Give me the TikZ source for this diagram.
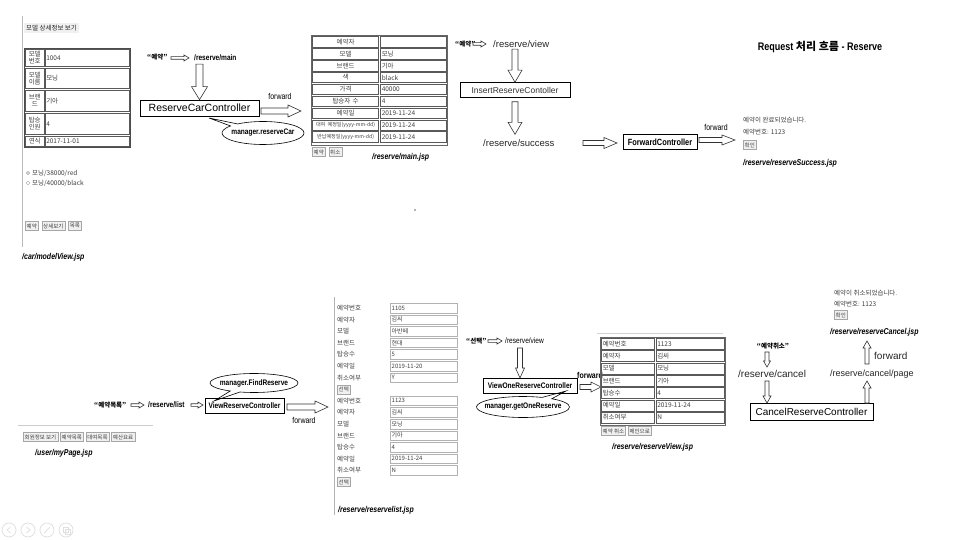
\documentclass[tikz,border=0pt]{standalone}
\usepackage{fontspec}
\setmainfont{Liberation Sans}
\newfontfamily\kr{Noto Sans CJK KR}
\newfontfamily\nar[FakeStretch=0.82]{Liberation Sans}
\usetikzlibrary{shapes.geometric,shapes.callouts,calc}

\newcommand\blockR[5]{\draw[blk] let \p1=#1, \p2=#2 in (\x1,{\y1+#3pt}) -- ({\x2-#5pt},{\y1+#3pt}) -- ({\x2-#5pt},{\y1+#4pt}) -- (\x2,\y1) -- ({\x2-#5pt},{\y1-#4pt}) -- ({\x2-#5pt},{\y1-#3pt}) -- (\x1,{\y1-#3pt}) -- cycle;}
\newcommand\blockD[5]{\draw[blk] let \p1=#1, \p2=#2 in ({\x1-#3pt},\y1) -- ({\x1-#3pt},{\y2+#5pt}) -- ({\x1-#4pt},{\y2+#5pt}) -- (\x1,\y2) -- ({\x1+#4pt},{\y2+#5pt}) -- ({\x1+#3pt},{\y2+#5pt}) -- ({\x1+#3pt},\y1) -- cycle;}
\newcommand\blockU[5]{\draw[blk] let \p1=#1, \p2=#2 in ({\x1-#3pt},\y1) -- ({\x1-#3pt},{\y2-#5pt}) -- ({\x1-#4pt},{\y2-#5pt}) -- (\x1,\y2) -- ({\x1+#4pt},{\y2-#5pt}) -- ({\x1+#3pt},{\y2-#5pt}) -- ({\x1+#3pt},\y1) -- cycle;}

\tikzset{
 every node/.style={inner sep=0pt},
 kt/.style={font=\kr\fontsize{6.5}{7}\selectfont, text=black!75},
 qt/.style={font=\kr\bfseries\fontsize{6.5}{7}\selectfont},
 jsp/.style={font=\nar\bfseries\itshape\fontsize{8.5}{9}\selectfont, anchor=west},
 url/.style={font=\fontsize{9.5}{10}\selectfont, anchor=west, text=black!85},
 urlb/.style={font=\nar\bfseries\fontsize{8}{9}\selectfont, anchor=west},
 fwd/.style={font=\nar\fontsize{8.5}{9}\selectfont},
 ctrl/.style={draw, line width=.7pt, fill=white, font=\fontsize{10.5}{11}\selectfont},
 ctrlb/.style={draw, line width=.7pt, fill=white, font=\nar\bfseries\fontsize{8}{9}\selectfont},
 blk/.style={draw=black!80, line width=.6pt, fill=white, line join=miter},
 btn/.style={draw=gray!70, fill=gray!12, font=\kr\fontsize{5.5}{6}\selectfont, inner xsep=1.5pt, minimum height=9, text=black!75},
 cellbox/.style={draw=black!65, line width=.5pt, font=\kr\fontsize{6.5}{7}\selectfont, text=black!75, inner xsep=1.5pt},
 field/.style={draw=gray!60, line width=.4pt, font=\kr\fontsize{6}{7}\selectfont, text=black!75, minimum height=9.5, text width=64, inner xsep=1.5pt, align=left, anchor=west},
 callout/.style={ellipse callout, draw, line width=.6pt, font=\nar\bfseries\fontsize{8}{9}\selectfont, callout pointer arc=14},
}

\begin{document}
\begin{tikzpicture}[x=1pt,y=-1pt]
\useasboundingbox (0,0) rectangle (960,540);
\fill[white] (0,0) rectangle (960,540);

% ---------------- top-left: model view ----------------
\draw[gray!55, line width=.8pt] (22,16) -- (22,247);
\node[kt, fill=gray!12, anchor=west, inner xsep=2pt, inner ysep=2pt, text=black!85] (ttl) at (24,28) {모델 상세정보 보기};
\draw[black!70, line width=.8pt] (24,48) rectangle (130,147);
\foreach \t/\b/\lab/\val [count=\i] in {48/67/{모델\\번호}/1004, 67/89/{모델\\이름}/모닝, 89/112/{브랜\\드}/기아, 112/135/{탑승\\인원}/4, 135/147/연식/2017-11-01} {
  \node[cellbox, anchor=north west, text width=16, align=center, minimum height={\b-\t-1.6}] (tl\i) at (25,{\t+0.8}) {\lab};
  \node[cellbox, anchor=north west, text width=81, align=left, minimum height={\b-\t-1.6}] (tv\i) at (44.5,{\t+0.8}) {\val};
}
\draw[gray!70] (28,173) circle (1.8); \fill[gray!70] (28,173) circle (0.8);
\node[kt, anchor=west] (r1) at (32,173) {모닝/38000/red};
\draw[gray!70] (28,183) circle (1.8);
\node[kt, anchor=west] (r2) at (32,183) {모닝/40000/black};
\node[btn, anchor=west] (b1) at (25,226) {예약};
\node[btn, anchor=west] (b2) at ([xshift=3pt]b1.east) {상세보기};
\node[btn, anchor=west] (b3) at ([xshift=3pt]b2.east) {목록};
\node[jsp] (j1) at (22,257) {/car/modelView.jsp};

% ---------------- top: reserve main ----------------
\node[qt, anchor=west] (q1) at (147,57) {“예약”};
\blockR{(171,58)}{(189,58)}{1.3}{3}{5}
\node[urlb] (rm) at (194,58) {/reserve/main};
\node[ctrl, minimum width=119, minimum height=16] (rcc) at (199.5,108) {ReserveCarController};
\blockD{([yshift=-3pt]rcc.north |- rm.south)}{(rcc.north)}{3.5}{8}{13}
\node[fwd] (fw1) at (280,96) {forward};
\blockR{(261,111)}{(301,111)}{3}{6}{13}
\node[callout, minimum width=82, minimum height=23, callout absolute pointer={(209,118)}] (mrc) at (263,133) {\makebox[0pt]{manager.reserveCar}};

% ---------------- reserve/main.jsp form ----------------
\draw[black!60, line width=.7pt] (311,35) rectangle (447,145);
\foreach \lab/\val [count=\i from 0] in {예약자/{}, 모델/모닝, 브랜드/기아, 색/black, 가격/40000, 탑승자 수/4, 예약일/2019-11-24, {\fontsize{5.1}{6}\selectfont 대여 예정일(yyyy-mm-dd)}/2019-11-24, {\fontsize{5.1}{6}\selectfont 반납예정일(yyyy-mm-dd)}/2019-11-24} {
  \pgfmathsetmacro\yt{36.3+11.9*\i}
  \node[cellbox, anchor=north west, text width=63, align=center, minimum height=10.5] (fl\i) at (312.3,\yt) {\lab};
  \node[cellbox, anchor=north west, text width=63, align=left, minimum height=10.5] (fv\i) at (380,\yt) {\val};
}
\node[btn, anchor=west] (fb1) at (312,152) {예약};
\node[btn, anchor=west] (fb2) at ([xshift=3pt]fb1.east) {취소};
\node[jsp] (j2) at (372,157) {/reserve/main.jsp};

% ---------------- top right: insert / forward ----------------
\node[qt, anchor=west] (q2) at (455,44) {“예약”};
\blockR{(473,44)}{(486,44)}{1.3}{3}{5}
\node[url] (rv) at (493,44) {/reserve/view};
\node[ctrl, font=\fontsize{8.5}{9}\selectfont, text=black!80, minimum width=110, minimum height=15, line width=.6pt] (irc) at (515,90) {InsertReserveContoller};
\blockD{([yshift=-1.5pt]irc.north |- rv.south)}{(irc.north)}{3}{7}{12}
\node[url] (rs) at (483,143) {/reserve/success};
\blockD{([yshift=-4pt]irc.south)}{([yshift=5pt]rs.north -| irc.south)}{3}{7}{12}
\blockR{(583,143)}{(617,143)}{2.5}{5.5}{13}
\node[ctrlb, minimum width=74, minimum height=15, font=\nar\bfseries\fontsize{9}{10}\selectfont] (fc) at (660,142) {ForwardController};
\node[fwd] (fw2) at (716,127) {forward};
\blockR{(699,140)}{(735,140)}{2.5}{5}{13}
\node[kt, anchor=west] (s1) at (743,120) {예약이 완료되었습니다.};
\node[kt, anchor=west] (s2) at (743,132) {예약번호: 1123};
\node[btn, anchor=west] (s3) at (743,145) {확인};
\node[jsp] (s4) at (743,163) {/reserve/reserveSuccess.jsp};
\node[font=\nar\bfseries\fontsize{11}{12}\selectfont] (title) at (820,47) {Request {\kr\bfseries 처리 흐름} - Reserve};
\fill[black!60] (415,210) circle (0.8);

% ---------------- bottom left: myPage ----------------
\draw[gray!40, line width=.6pt] (18,425) -- (153,425);
\node[btn, anchor=west] (m1) at (23,437) {회원정보 보기};
\node[btn, anchor=west] (m2) at ([xshift=2pt]m1.east) {예약목록};
\node[btn, anchor=west] (m3) at ([xshift=2pt]m2.east) {대여목록};
\node[btn, anchor=west] (m4) at ([xshift=2pt]m3.east) {예산요료};
\node[jsp] (j4) at (35,453) {/user/myPage.jsp};

\node[qt, anchor=west] (q3) at (94,405) {“예약목록”};
\blockR{(131,405)}{(144,405)}{1.3}{3}{5}
\node[urlb] (rl) at (148,405) {/reserve/list};
\blockR{(191,405)}{(203,405)}{1.3}{3}{5}
\node[ctrlb, minimum width=79, minimum height=15] (vrc) at (244.5,405.5) {ViewReserveController};
\node[callout, minimum width=88, minimum height=19, callout absolute pointer={(214,401)}] (mfr) at (254,383) {\makebox[0pt]{manager.FindReserve}};
\blockR{(287,407)}{(328,407)}{3}{6}{13}
\node[fwd] (fw3) at (304,420) {forward};

% ---------------- reservelist.jsp ----------------
\draw[gray!60, line width=.7pt] (334,297) -- (334,515);
\foreach \lab/\val/\yy [count=\i] in {예약번호/1105/308, 예약자/김씨/319.6, 모델/아반떼/331.2, 브랜드/현대/342.8, 탑승수/5/354.4, 예약일/2019-11-20/366, 취소여부/Y/377.6, 예약번호/1123/400.8, 예약자/김씨/412.4, 모델/모닝/424, 브랜드/기아/435.6, 탑승수/4/447.2, 예약일/2019-11-24/458.8, 취소여부/N/470.4} {
  \node[kt, anchor=west] (ll\i) at (337,\yy) {\lab};
  \node[field] (lv\i) at (390,\yy) {\val};
}
\node[btn, anchor=west] (lb1) at (337,389.2) {선택};
\node[btn, anchor=west] (lb2) at (337,482) {선택};
\node[jsp] (j5) at (338,510) {/reserve/reservelist.jsp};

% ---------------- view one ----------------
\node[qt, anchor=west] (q4) at (466,341) {“선택”};
\blockR{(488,341)}{(502,341)}{1.3}{3}{5}
\node[urlb, font=\nar\fontsize{8}{9}\selectfont] (rv2) at (505,341) {/reserve/view};
\node[ctrlb, minimum width=94, minimum height=15] (vorc) at (530,385.5) {ViewOneReserveController};
\blockD{(520,348)}{(520,378)}{2.5}{4.5}{10}
\node[fwd, font=\nar\bfseries\fontsize{8.5}{9}\selectfont] (fw4) at (590,375) {forward};
\blockR{(580,387)}{(601,387)}{2.5}{5}{10}
\node[callout, minimum width=93, minimum height=21, callout absolute pointer={(566,391)}] (mgo) at (523,407) {\makebox[0pt]{manager.getOneReserve}};

% ---------------- reserveView.jsp ----------------
\draw[gray!35] (597,333) -- (723,333);
\draw[black!60, line width=.7pt] (600,337) rectangle (725,425);
\foreach \lab/\val [count=\i from 0] in {예약번호/1123, 예약자/김씨, 모델/모닝, 브랜드/기아, 탑승수/4, 예약일/2019-11-24, 취소여부/N} {
  \pgfmathsetmacro\yt{338+12.3*\i}
  \node[cellbox, anchor=north west, minimum height=11, text width=50, align=left] (vl\i) at (601,\yt) {\lab};
  \node[cellbox, anchor=north west, minimum height=11, text width=65, align=left] (vv\i) at (655.5,\yt) {\val};
}
\node[btn, anchor=west] (vb1) at (601,431) {예약 취소};
\node[btn, anchor=west] (vb2) at ([xshift=2pt]vb1.east) {메인으로};
\node[jsp] (j6) at (612,447) {/reserve/reserveView.jsp};

% ---------------- cancel ----------------
\node[kt, anchor=west] (c1) at (834,293) {예약이 취소되었습니다.};
\node[kt, anchor=west] (c2) at (834,304) {예약번호: 1123};
\node[btn, anchor=west] (c3) at (834,315) {확인};
\node[jsp] (c4) at (830,332) {/reserve/reserveCancel.jsp};
\node[qt] (q5) at (773,346) {“예약취소”};
\blockD{(767,352)}{(767,367)}{2}{3.5}{6}
\node[url, font=\fontsize{10}{11}\selectfont] (rc) at (738,374) {/reserve/cancel};
\node[ctrl, font=\fontsize{10}{11}\selectfont, minimum width=123, minimum height=17] (crc) at (811.5,411.5) {CancelReserveController};
\blockD{(767,381)}{(767,403)}{2}{4}{7}
\node[url, font=\fontsize{9}{10}\selectfont] (rcp) at (830,374) {/reserve/cancel/page};
\blockU{(867,403)}{(867,381)}{2}{4}{7}
\blockU{(867,364)}{(867,341)}{2}{4}{7}
\node[url, font=\fontsize{10}{11}\selectfont] (fw5) at (874,356) {forward};

% ---------------- slide controls ----------------
\foreach \cx in {9,28,47,66} \draw[gray!25, line width=.7pt] (\cx,530) circle (7);
\draw[gray!25, line width=.7pt] (10.5,527) -- (7,530) -- (10.5,533);
\draw[gray!25, line width=.7pt] (26.5,527) -- (30,530) -- (26.5,533);
\draw[gray!25, line width=.7pt] (44,533) -- (50,527);
\draw[gray!25, line width=.7pt] (63,527) rectangle (68,532) (65,529) rectangle (70,534);
\end{tikzpicture}
\end{document}
